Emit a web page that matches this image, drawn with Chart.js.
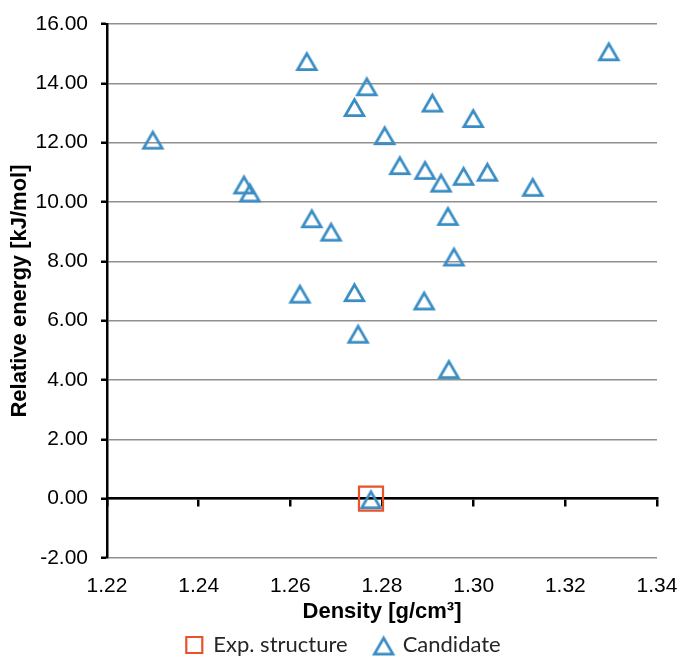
<!DOCTYPE html>
<html>
<head>
<meta charset="utf-8">
<script src="https://cdn.jsdelivr.net/npm/chart.js@4.4.1/dist/chart.umd.min.js"></script>
<style>
  html, body { margin: 0; padding: 0; background: #fff; }
  #wrap { width: 680px; height: 658px; position: relative; }
</style>
</head>
<body>
<div id="wrap"><canvas id="scatterChart"></canvas></div>
<script>
// candidate structures: density vs relative energy
var candidateDensity = [1.2300, 1.2636, 1.2767, 1.2740, 1.2806, 1.3295, 1.2910, 1.2999, 1.2839, 1.2894,
                        1.2929, 1.2978, 1.3030, 1.3129, 1.2499, 1.2512, 1.2647, 1.2689, 1.2944, 1.2957,
                        1.2621, 1.2740, 1.2892, 1.2748, 1.2946, 1.2776];
var candidateEnergy = [12.12, 14.77, 13.92, 13.22, 12.27, 15.10, 13.37, 12.85, 11.26, 11.10,
                       10.67, 10.90, 11.04, 10.53, 10.61, 10.34, 9.47, 9.02, 9.55, 8.18,
                       6.93, 6.98, 6.70, 5.58, 4.39, 0.00];
// experimental structure
var expDensity = [1.2776];
var expEnergy = [0.00];

var xTicks = [1.22, 1.24, 1.26, 1.28, 1.30, 1.32, 1.34];
var yTicks = [-2, 0, 2, 4, 6, 8, 10, 12, 14, 16];

var blue = '#3A8DC4';
var orange = '#E8532B';

function toPoints(xs, ys) {
    return xs.map(function (x, i) { return { x: x, y: ys[i] }; });
}

function noPadding(scale) {
    scale.paddingLeft = 0;
    scale.paddingRight = 0;
    scale.paddingTop = 0;
    scale.paddingBottom = 0;
}

// hollow triangle marker, centred on its bounding box like the Excel one
function triangleMarker(w, h, lw, color) {
    var c = document.createElement('canvas');
    c.width = Math.ceil(w + lw * 3);
    c.height = Math.ceil(h + lw * 3);
    var g = c.getContext('2d');
    var ox = (c.width - w) / 2, oy = (c.height - h) / 2 + lw * 0.4;
    g.strokeStyle = color;
    g.lineWidth = lw;
    g.lineJoin = 'miter';
    g.beginPath();
    g.moveTo(ox + w / 2, oy);
    g.lineTo(ox + w, oy + h);
    g.lineTo(ox, oy + h);
    g.closePath();
    g.stroke();
    return c;
}

var triangleImg = triangleMarker(18.5, 16, 2.8, blue);

var axisFont = { family: "'Liberation Sans', Arial, sans-serif", size: 21 };
var titleFont = { family: "'Liberation Sans', Arial, sans-serif", size: 22, weight: 'bold' };

const ctx = document.getElementById('scatterChart');
const myChart = new Chart(ctx, {
    type: 'scatter',
    data: {
        datasets: [
            {
                label: 'Exp. structure',
                data: toPoints(expDensity, expEnergy),
                pointStyle: 'rect',
                pointRadius: 17,
                pointHoverRadius: 17,
                borderWidth: 2.2,
                borderColor: orange,
                backgroundColor: 'rgba(0,0,0,0)'
            },
            {
                label: 'Candidate',
                data: toPoints(candidateDensity, candidateEnergy),
                pointStyle: triangleImg,
                pointRadius: 11,
                pointHoverRadius: 11,
                borderWidth: 2.5,
                borderColor: blue,
                backgroundColor: 'rgba(0,0,0,0)'
            }
        ]
    },
    options: {
        responsive: true,
        maintainAspectRatio: false,
        animation: false,
        layout: { padding: { left: 30, right: 23, top: 24, bottom: -8 } },
        plugins: {
            tooltip: { enabled: false },
            legend: {
                position: 'bottom',
                labels: {
                    usePointStyle: true,
                    boxWidth: 16,
                    boxHeight: 16,
                    padding: 28,
                    color: '#262626',
                    font: { family: "Lato, 'Open Sans', sans-serif", size: 22 }
                }
            }
        },
        scales: {
            x: {
                type: 'linear',
                position: 'bottom',
                min: 1.22,
                max: 1.34,
                afterBuildTicks: function (scale) {
                    scale.ticks = xTicks.map(function (v) { return { value: v }; });
                },
                afterFit: function (scale) { scale.height = 48; noPadding(scale); },
                grid: { display: false, drawTicks: false },
                border: { display: false },
                ticks: {
                    padding: 16,
                    color: '#000',
                    font: axisFont,
                    callback: function (v) { return v.toFixed(2); }
                },
                title: {
                    display: true,
                    text: 'Density [g/cm³]',
                    color: '#000',
                    font: titleFont,
                    padding: { top: 0, bottom: -19 }
                }
            },
            // axis line crossing at y = 0 with tick marks
            x0: {
                type: 'linear',
                axis: 'x',
                position: { y: 0 },
                min: 1.22,
                max: 1.34,
                afterBuildTicks: function (scale) {
                    scale.ticks = xTicks.map(function (v) { return { value: v }; });
                },
                afterFit: noPadding,
                grid: { drawOnChartArea: false, drawTicks: true, tickLength: 7, tickColor: '#000', lineWidth: 2.5 },
                border: { display: true, color: '#000', width: 2.5 },
                ticks: { display: false }
            },
            y: {
                type: 'linear',
                min: -2,
                max: 16,
                afterBuildTicks: function (scale) {
                    scale.ticks = yTicks.map(function (v) { return { value: v }; });
                },
                afterFit: function (scale) { scale.width = 77; noPadding(scale); },
                grid: { color: '#8f8f8f', lineWidth: 1.5, drawTicks: true, tickLength: 6, tickColor: '#000', tickWidth: 2.5 },
                border: { display: true, color: '#000', width: 2.5 },
                ticks: {
                    padding: 13,
                    color: '#000',
                    font: axisFont,
                    callback: function (v) { return v.toFixed(2); }
                },
                title: {
                    display: true,
                    text: 'Relative energy [kJ/mol]',
                    color: '#000',
                    font: titleFont,
                    padding: { top: -23, bottom: 0 }
                }
            }
        }
    }
});
</script>
</body>
</html>
